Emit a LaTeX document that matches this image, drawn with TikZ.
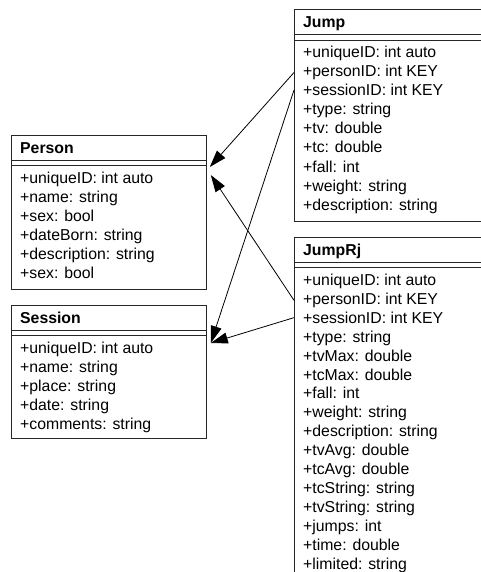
\documentclass[tikz,border=0pt]{standalone}
\usepackage{fontspec}
\setmainfont{Liberation Sans}
\usetikzlibrary{arrows.meta}

\tikzset{
	classbox/.style={draw=black!85, line width=0.8pt, anchor=north west, inner sep=0pt},
	classtitle/.style={anchor=base west, inner sep=0pt, font=\fontsize{15.8}{19}\selectfont\bfseries},
	attr/.style={anchor=base west, inner sep=0pt, font=\fontsize{15.8}{19}\selectfont},
	sepline/.style={draw=black!85, line width=0.8pt},
	fk/.style={line width=0.8pt, -{Triangle[length=17pt,width=11pt]}}
}

\begin{document}
\begin{tikzpicture}[x=1pt,y=-1pt]
		\useasboundingbox (0,0) rectangle (481,572);
		\clip (0,0) rectangle (481,572);
		% Person
		\begin{scope}[shift={(11,135)}]
		\node[classbox, minimum width=195, minimum height=154] (person) at (0,0) {};
		\node[classtitle] (person-title) at (9,18.5) {Person};
		\draw[sepline] (0,25) -- (195,25) (0,30) -- (195,30);
		\foreach \a [count=\i] in {+uniqueID: int auto, +name: string, +sex: bool, +dateBorn: string, +description: string, +sex: bool}
		{
			\node[attr] (person-\i) at (9,{48.5+19*(\i-1)}) {\a};
		}
		\end{scope}
		% Session
		\begin{scope}[shift={(11,305)}]
		\node[classbox, minimum width=195, minimum height=133] (session) at (0,0) {};
		\node[classtitle] (session-title) at (9,18.5) {Session};
		\draw[sepline] (0,25) -- (195,25) (0,30) -- (195,30);
		\foreach \a [count=\i] in {+uniqueID: int auto, +name: string, +place: string, +date: string, +comments: string}
		{
			\node[attr] (session-\i) at (9,{48.5+19*(\i-1)}) {\a};
		}
		\end{scope}
		% Jump
		\begin{scope}[shift={(294,9)}]
		\node[classbox, minimum width=200, minimum height=212] (jump) at (0,0) {};
		\node[classtitle] (jump-title) at (9,18.5) {Jump};
		\draw[sepline] (0,25) -- (200,25) (0,31) -- (200,31);
		\foreach \a [count=\i] in {+uniqueID: int auto, +personID: int KEY, +sessionID: int KEY, +type: string, +tv: double, +tc: double, +fall: int, +weight: string, +description: string}
		{
			\node[attr] (jump-\i) at (9,{48.5+19.1*(\i-1)}) {\a};
		}
		\end{scope}
		% JumpRj
		\begin{scope}[shift={(294,237)}]
		\node[classbox, minimum width=200, minimum height=360] (jumprj) at (0,0) {};
		\node[classtitle] (jumprj-title) at (9,18.5) {JumpRj};
		\draw[sepline] (0,25) -- (200,25) (0,30) -- (200,30);
		\foreach \a [count=\i] in {+uniqueID: int auto, +personID: int KEY, +sessionID: int KEY, +type: string, +tvMax: double, +tcMax: double, +fall: int, +weight: string, +description: string, +tvAvg: double, +tcAvg: double, +tcString: string, +tvString: string, +jumps: int, +time: double, +limited: string}
		{
			\node[attr] (jumprj-\i) at (9,{48.5+18.9*(\i-1)}) {\a};
		}
		\end{scope}
		% keys
		\coordinate (person-in-a) at ([shift={(3,32)}]person.north east);
		\coordinate (person-in-b) at ([shift={(4,40)}]person.north east);
		\coordinate (session-in) at ([shift={(4,38)}]session.north east);
		\draw[fk] (jump.west |- jump-2) -- (person-in-a);
		\draw[fk] (jump.west |- jump-3) -- (session-in);
		\draw[fk] (jumprj.west |- jumprj-2) -- (person-in-b);
		\draw[fk] (jumprj.west |- jumprj-3) -- (session-in);
\end{tikzpicture}
\end{document}
